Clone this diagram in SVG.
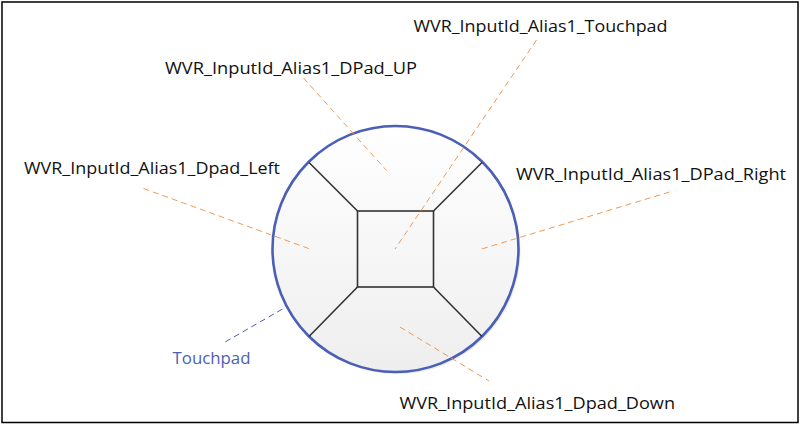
<svg xmlns="http://www.w3.org/2000/svg" width="801" height="426" viewBox="0 0 801 426">
  <style>
    .lbl { font-family: "Open Sans", "Liberation Sans", sans-serif; font-size: 16px; fill: #111; }
    .blue { fill: #4a5fb5; }
    .lead { stroke: #ef9a55; stroke-width: 1; stroke-dasharray: 6 4; fill: none; }
    .leadb { stroke: #4a5fb5; stroke-width: 1; stroke-dasharray: 6 4; fill: none; }
    .seg { stroke: #333; stroke-width: 1.6; fill: none; }
  </style>
  <defs>
    <linearGradient id="g" x1="0" y1="0" x2="0" y2="1">
      <stop offset="0" stop-color="#ffffff"/>
      <stop offset="1" stop-color="#eeeeee"/>
    </linearGradient>
  </defs>
  <rect x="0" y="0" width="801" height="426" fill="#fff"/>
  <rect x="2" y="2" width="796" height="420.5" fill="none" stroke="#000" stroke-width="1.5"/>

  <g id="touchpad-node">
    <circle cx="397.5" cy="251" r="123" fill="#d8d8d8" opacity="0.5"/>
    <circle cx="395.5" cy="249" r="123" fill="url(#g)" stroke="#4a5fb5" stroke-width="2.6"/>
    <rect x="357.5" y="211" width="76" height="76" fill="url(#g)" class="seg"/>
    <line class="seg" x1="357.5" y1="211" x2="309" y2="162.5"/>
    <line class="seg" x1="433.5" y1="211" x2="482" y2="162.5"/>
    <line class="seg" x1="357.5" y1="287" x2="309" y2="336.5"/>
    <line class="seg" x1="433.5" y1="287" x2="482" y2="336.5"/>
  </g>

  <g id="connectors">
    <line class="lead" x1="303.5" y1="78" x2="386.5" y2="170.5"/>
    <line class="lead" x1="536.5" y1="40" x2="395" y2="249"/>
    <line class="lead" x1="143.5" y1="188.5" x2="310" y2="249"/>
    <line class="lead" x1="669.5" y1="192" x2="480" y2="249.5"/>
    <line class="lead" x1="400" y1="327" x2="489" y2="381"/>
    <line class="leadb" x1="282.5" y1="309" x2="222.5" y2="343.5"/>
  </g>

  <g id="label-touchpad-id"><text class="lbl" x="413.5" y="31.5" textLength="254" lengthAdjust="spacingAndGlyphs">WVR_InputId_Alias1_Touchpad</text></g>
  <g id="label-up"><text class="lbl" x="165" y="73.5" textLength="252" lengthAdjust="spacingAndGlyphs">WVR_InputId_Alias1_DPad_UP</text></g>
  <g id="label-left"><text class="lbl" x="24" y="173.5" textLength="256" lengthAdjust="spacingAndGlyphs">WVR_InputId_Alias1_Dpad_Left</text></g>
  <g id="label-right"><text class="lbl" x="516" y="179.5" textLength="270" lengthAdjust="spacingAndGlyphs">WVR_InputId_Alias1_DPad_Right</text></g>
  <g id="label-down"><text class="lbl" x="399.5" y="408.5" textLength="275.5" lengthAdjust="spacingAndGlyphs">WVR_InputId_Alias1_Dpad_Down</text></g>
  <g id="label-touchpad"><text class="lbl blue" x="172.5" y="363.5" textLength="78" lengthAdjust="spacingAndGlyphs">Touchpad</text></g>
</svg>
